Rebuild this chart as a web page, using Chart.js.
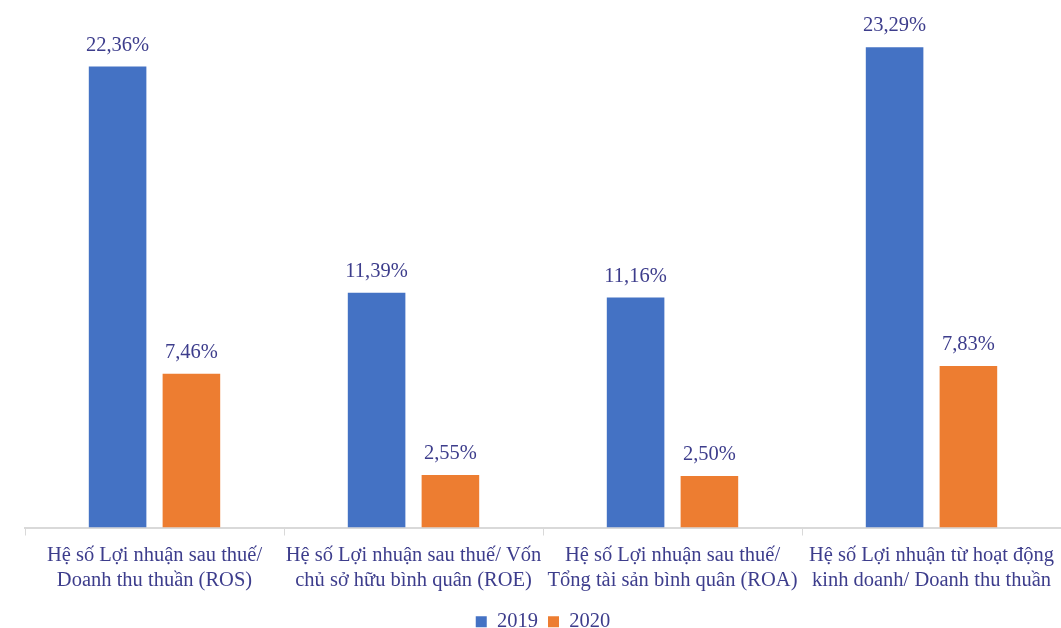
<!DOCTYPE html>
<html>
<head>
<meta charset="utf-8">
<script src="https://cdn.jsdelivr.net/npm/chart.js@4"></script>
<style>
  html, body { margin: 0; padding: 0; background: #fff; overflow: hidden; }
  /* un peu plus haut que la fenêtre pour placer la légende au ras du bas */
  #wrap { width: 1061px; height: 642px; position: relative; }
</style>
</head>
<body>
<div id="wrap"><canvas id="c"></canvas></div>
<script>
// Données
var categories = [
    ['Hệ số Lợi nhuận sau thuế/', 'Doanh thu thuần (ROS)'],
    ['Hệ số Lợi nhuận sau thuế/ Vốn', 'chủ sở hữu bình quân (ROE)'],
    ['Hệ số Lợi nhuận sau thuế/', 'Tổng tài sản bình quân (ROA)'],
    ['Hệ số Lợi nhuận từ hoạt động', 'kinh doanh/ Doanh thu thuần']
];
var seriesNames = ['2019', '2020'];
var values2019 = [22.36, 11.39, 11.16, 23.29];
var values2020 = [7.46, 2.55, 2.50, 7.83];

var textColor = '#3d3d8c';
var fontFamily = '"Liberation Serif", "Times New Roman", serif';

// Étiquettes de valeur au-dessus des barres
var valueLabels = {
    id: 'valueLabels',
    afterDatasetsDraw: function (chart) {
        var ctx = chart.ctx;
        ctx.save();
        ctx.font = '20.5px ' + fontFamily;
        ctx.fillStyle = textColor;
        ctx.textAlign = 'center';
        ctx.textBaseline = 'bottom';
        chart.data.datasets.forEach(function (ds, i) {
            var meta = chart.getDatasetMeta(i);
            meta.data.forEach(function (bar, j) {
                var txt = ds.data[j].toFixed(2).replace('.', ',') + '%';
                ctx.fillText(txt, bar.x, bar.y - 11);
            });
        });
        ctx.restore();
    }
};

new Chart(document.getElementById('c'), {
    type: 'bar',
    data: {
        labels: categories,
        datasets: [
            { label: seriesNames[0], data: values2019, backgroundColor: '#4472c4' },
            { label: seriesNames[1], data: values2020, backgroundColor: '#ed7d31' }
        ]
    },
    options: {
        responsive: true,
        maintainAspectRatio: false,
        animation: false,
        categoryPercentage: 0.57,
        barPercentage: 0.78,
        layout: { padding: { top: 12, left: 25, right: 0, bottom: 0 } },
        plugins: {
            legend: {
                position: 'bottom',
                labels: {
                    color: textColor,
                    font: { family: fontFamily, size: 20.5 },
                    boxWidth: 11,
                    boxHeight: 11,
                    padding: 10
                }
            },
            tooltip: { enabled: false }
        },
        scales: {
            x: {
                afterFit: function (scale) {
                    // hauteur fixe de l'axe, pas de marge latérale
                    scale.height = 74;
                    scale.paddingLeft = 0;
                    scale.paddingRight = 0;
                },
                grid: {
                    offset: true,
                    drawOnChartArea: false,
                    color: '#d9d9d9',
                    tickLength: 8
                },
                border: { color: '#d9d9d9', width: 2 },
                ticks: {
                    color: textColor,
                    font: { family: fontFamily, size: 20.5 },
                    maxRotation: 0,
                    autoSkip: false,
                    padding: 8
                }
            },
            y: {
                display: false,
                min: 0,
                max: 25
            }
        }
    },
    plugins: [valueLabels]
});
</script>
</body>
</html>
